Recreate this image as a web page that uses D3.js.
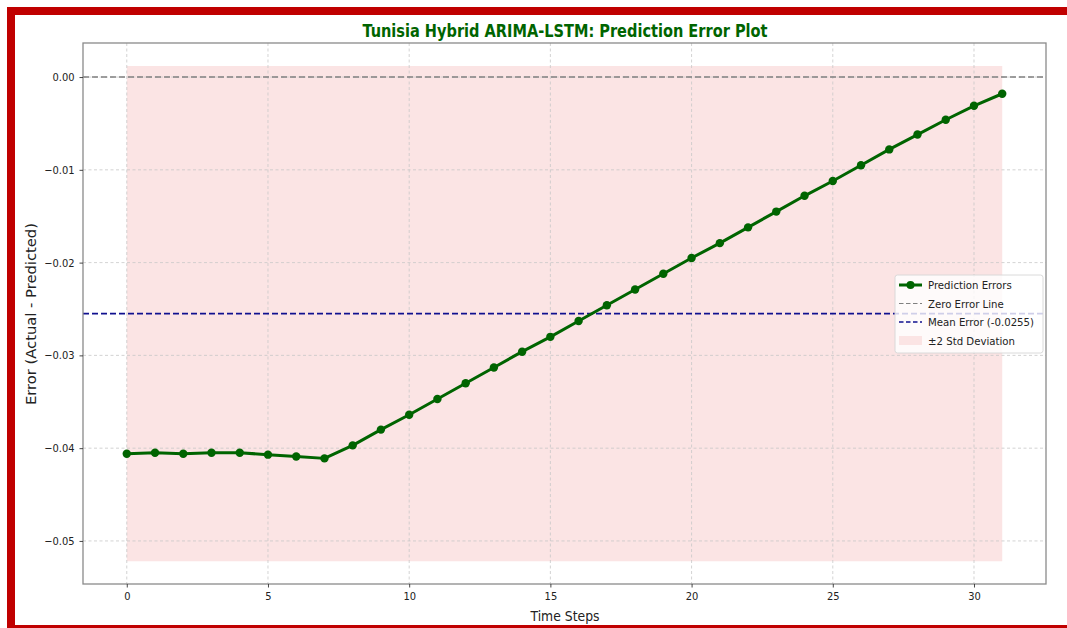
<!DOCTYPE html>
<html>
<head>
<meta charset="utf-8">
<script src="https://cdn.jsdelivr.net/npm/d3@7"></script>
<style>
  html, body { margin: 0; padding: 0; background: #fff; }
  svg { display: block; }
  text { font-family: "DejaVu Sans Condensed", "DejaVu Sans", sans-serif; font-stretch: condensed; }
</style>
</head>
<body>
<svg id="chart" width="1067" height="628"></svg>
<script>
// ---- data ----
const timeSteps = d3.range(0, 32);
const predictionErrors = [
  -0.0406, -0.0405, -0.0406, -0.0405, -0.0405, -0.0407, -0.0409, -0.0411,
  -0.0397, -0.0380, -0.0364, -0.0347, -0.0330, -0.0313, -0.0296, -0.0280,
  -0.0263, -0.0246, -0.0229, -0.0212, -0.0195, -0.0179, -0.0162, -0.0145,
  -0.0128, -0.0112, -0.0095, -0.0078, -0.0062, -0.0046, -0.0031, -0.0018
];
const meanError = -0.0255;
const bandUpper = 0.0012;
const bandLower = -0.0522;
const xTicks = [0, 5, 10, 15, 20, 25, 30];
const yTicks = [0.00, -0.01, -0.02, -0.03, -0.04, -0.05];
const titleText = "Tunisia Hybrid ARIMA-LSTM: Prediction Error Plot";
const xLabel = "Time Steps";
const yLabel = "Error (Actual - Predicted)";
const legendLabels = ["Prediction Errors", "Zero Error Line", "Mean Error (-0.0255)", "\u00b12 Std Deviation"];

// ---- layout ----
const W = 1067, H = 628;
const plot = { left: 83, right: 1046, top: 43, bottom: 584 };
const svg = d3.select("#chart");

// red frame (cropped border)
svg.append("rect").attr("x", 7).attr("y", 7).attr("width", W - 7).attr("height", 8).attr("fill", "#c00000");
svg.append("rect").attr("x", 7).attr("y", 7).attr("width", 8).attr("height", H - 7).attr("fill", "#c00000");
svg.append("rect").attr("x", 7).attr("y", 625).attr("width", W - 7).attr("height", 3).attr("fill", "#c00000");

const x = d3.scaleLinear().domain([-1.55, 32.55]).range([plot.left, plot.right]);
const y = d3.scaleLinear().domain([-0.05464, 0.00367]).range([plot.bottom, plot.top]);

const g = svg.append("g");

// band
g.append("path")
  .datum(timeSteps)
  .attr("d", d3.area().x(d => x(d)).y0(y(bandLower)).y1(y(bandUpper)))
  .attr("fill", "#fbe4e4");

// grid
g.selectAll(".gx").data(xTicks).join("line")
  .attr("x1", d => x(d)).attr("x2", d => x(d))
  .attr("y1", plot.top).attr("y2", plot.bottom)
  .attr("stroke", "#c8c8c8").attr("stroke-width", 0.8).attr("stroke-dasharray", "3,2.5");
g.selectAll(".gy").data(yTicks).join("line")
  .attr("y1", d => y(d)).attr("y2", d => y(d))
  .attr("x1", plot.left).attr("x2", plot.right)
  .attr("stroke", "#c8c8c8").attr("stroke-width", 0.8).attr("stroke-dasharray", "3,2.5");

// zero line
g.append("line")
  .attr("x1", plot.left).attr("x2", plot.right)
  .attr("y1", y(0)).attr("y2", y(0))
  .attr("stroke", "#808080").attr("stroke-width", 1.5).attr("stroke-dasharray", "6,3");

// mean line
g.append("line")
  .attr("x1", plot.left).attr("x2", plot.right)
  .attr("y1", y(meanError)).attr("y2", y(meanError))
  .attr("stroke", "#10108f").attr("stroke-width", 1.6).attr("stroke-dasharray", "6,3");

// error line
g.append("path")
  .datum(predictionErrors)
  .attr("d", d3.line().x((d, i) => x(timeSteps[i])).y(d => y(d)))
  .attr("fill", "none").attr("stroke", "#006400").attr("stroke-width", 3).attr("stroke-linejoin", "round");
g.selectAll(".pt").data(predictionErrors).join("circle")
  .attr("cx", (d, i) => x(timeSteps[i])).attr("cy", d => y(d)).attr("r", 4.2)
  .attr("fill", "#006400");

// frame
svg.append("rect")
  .attr("x", plot.left).attr("y", plot.top)
  .attr("width", plot.right - plot.left).attr("height", plot.bottom - plot.top)
  .attr("fill", "none").attr("stroke", "#8a8a8a").attr("stroke-width", 1.3);

// axes
const xAxis = d3.axisBottom(x).tickValues(xTicks).tickFormat(d3.format("d")).tickSize(3.5).tickPadding(5);
const yAxis = d3.axisLeft(y).tickValues(yTicks).tickFormat(d => d === 0 ? "0.00" : "\u2212" + d3.format(".2f")(-d)).tickSize(3.5).tickPadding(5);
const gx = svg.append("g").attr("transform", `translate(0,${plot.bottom})`).call(xAxis);
const gy = svg.append("g").attr("transform", `translate(${plot.left},0)`).call(yAxis);
[gx, gy].forEach(a => {
  a.select(".domain").remove();
  a.selectAll(".tick line").attr("stroke", "#333").attr("stroke-width", 0.9);
  a.selectAll(".tick text").attr("fill", "#222").attr("font-size", 11)
   .style("font-family", '"DejaVu Sans Condensed", "DejaVu Sans", sans-serif');
});

// title
svg.append("text")
  .attr("x", 565).attr("y", 37).attr("text-anchor", "middle")
  .attr("font-size", 17).attr("font-weight", "bold").attr("fill", "#006400")
  .attr("textLength", 405).attr("lengthAdjust", "spacingAndGlyphs")
  .text(titleText);

// axis labels
svg.append("text")
  .attr("x", 565).attr("y", 621).attr("text-anchor", "middle")
  .attr("font-size", 13.5).attr("fill", "#222")
  .attr("textLength", 69).attr("lengthAdjust", "spacingAndGlyphs")
  .text(xLabel);
svg.append("text")
  .attr("transform", "translate(36,314) rotate(-90)").attr("text-anchor", "middle")
  .attr("font-size", 13.5).attr("fill", "#222")
  .attr("textLength", 182).attr("lengthAdjust", "spacingAndGlyphs")
  .text(yLabel);

// legend
const lg = svg.append("g").attr("transform", "translate(895,275)");
lg.append("rect").attr("x", 0).attr("y", 0).attr("width", 148).attr("height", 78).attr("rx", 2.5)
  .attr("fill", "rgba(255,255,255,0.8)").attr("stroke", "#d6d6d6").attr("stroke-width", 0.9);
const rowY = [10, 28.5, 47, 65.5];
const hx0 = 4, hx1 = 27;
// handles
lg.append("line").attr("x1", hx0).attr("x2", hx1).attr("y1", rowY[0]).attr("y2", rowY[0])
  .attr("stroke", "#006400").attr("stroke-width", 3);
lg.append("circle").attr("cx", (hx0 + hx1) / 2).attr("cy", rowY[0]).attr("r", 4).attr("fill", "#006400");
lg.append("line").attr("x1", hx0).attr("x2", hx1).attr("y1", rowY[1]).attr("y2", rowY[1])
  .attr("stroke", "#808080").attr("stroke-width", 1.2).attr("stroke-dasharray", "4.5,2.5");
lg.append("line").attr("x1", hx0).attr("x2", hx1).attr("y1", rowY[2]).attr("y2", rowY[2])
  .attr("stroke", "#10108f").attr("stroke-width", 1.6).attr("stroke-dasharray", "4.5,2.5");
lg.append("rect").attr("x", hx0).attr("y", rowY[3] - 4.5).attr("width", hx1 - hx0).attr("height", 9)
  .attr("fill", "#fbe4e4");
lg.selectAll(".lt").data(legendLabels).join("text")
  .attr("x", 33).attr("y", (d, i) => rowY[i] + 4)
  .attr("font-size", 11.3).attr("fill", "#222")
  .text(d => d);
</script>
</body>
</html>
